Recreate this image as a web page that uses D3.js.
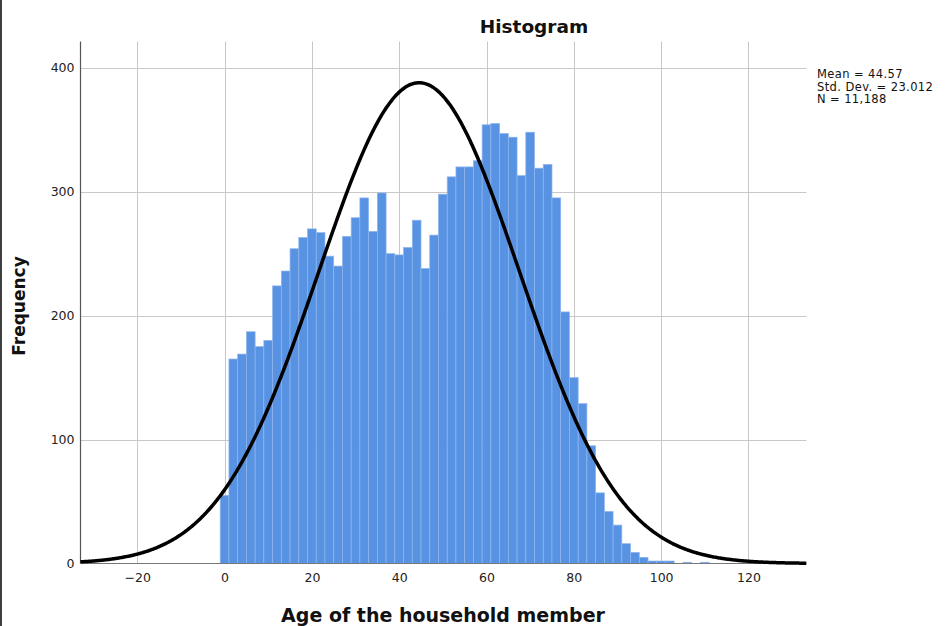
<!DOCTYPE html>
<html>
<head>
<meta charset="utf-8">
<script src="https://cdn.jsdelivr.net/npm/d3@7"></script>
<style>
  html, body { margin: 0; padding: 0; background: #fff; }
  svg { display: block; }
</style>
</head>
<body>
<svg id="chart" width="945" height="626"></svg>
<script>
// ---- Data ----
const binCenters = [0,2,4,6,8,10,12,14,16,18,20,22,24,26,28,30,32,34,36,38,40,42,44,46,48,50,52,54,56,58,60,62,64,66,68,70,72,74,76,78,80,82,84,86,88,90,92,94,96,98,100,102,104,106,108,110];
const frequencies = [55,165,169,187,175,180,224,236,254,263,270,267,248,240,264,279,295,268,299,250,249,255,277,238,265,298,312,320,320,325,354,355,347,344,313,348,319,322,295,203,150,129,95,57,42,31,16,9,5,2,2,2,0,1,0,1];
const binWidth = 2;
const xTicks = [-20,0,20,40,60,80,100,120];
const yTicks = [0,100,200,300,400];
const statMean = 44.57, statSD = 23.012, statN = 11188;
const legendLines = ["Mean = 44.57", "Std. Dev. = 23.012", "N = 11,188"];
const titleText = "Histogram";
const xTitle = "Age of the household member";
const yTitle = "Frequency";

// ---- Layout ----
const svg = d3.select("#chart");
const pLeft = 80.5, pRight = 806.5, pTop = 41.5, pBottom = 563.5;
const x = d3.scaleLinear().domain([-33.0, 133.3]).range([pLeft, pRight]);
const y = d3.scaleLinear().domain([0, 421.2]).range([pBottom, pTop]);
const font = "'DejaVu Sans', sans-serif";

// image left border
svg.append("line").attr("x1",1).attr("x2",1).attr("y1",0).attr("y2",626)
  .attr("stroke","#000").attr("stroke-width",1.5);

// grid
const grid = svg.append("g");
grid.selectAll("line.v").data(xTicks).join("line")
  .attr("x1", d => Math.round(x(d)) + 0.5).attr("x2", d => Math.round(x(d)) + 0.5)
  .attr("y1", pTop).attr("y2", pBottom)
  .attr("stroke", "#c8c8c8").attr("stroke-width", 1);
grid.selectAll("line.h").data(yTicks.filter(d => d > 0)).join("line")
  .attr("x1", pLeft).attr("x2", pRight)
  .attr("y1", d => Math.round(y(d)) + 0.5).attr("y2", d => Math.round(y(d)) + 0.5)
  .attr("stroke", "#c8c8c8").attr("stroke-width", 1);

// bars
svg.append("g").selectAll("rect").data(binCenters.map((c,i) => ({c, v: frequencies[i]})).filter(d => d.v > 0))
  .join("rect")
  .attr("x", d => x(d.c - binWidth/2))
  .attr("width", d => x(d.c + binWidth/2) - x(d.c - binWidth/2))
  .attr("y", d => y(d.v))
  .attr("height", d => y(0) - y(d.v))
  .attr("fill", "#5893e3")
  .attr("stroke", "#8fb6ee")
  .attr("stroke-width", 0.7);

// axes
const xAxis = d3.axisBottom(x).tickValues(xTicks).tickSize(0).tickPadding(10).tickFormat(d => d < 0 ? "\u2212" + Math.abs(d) : d);
const gx = svg.append("g").attr("transform", `translate(0,${pBottom})`).call(xAxis);
gx.select(".domain").remove();
gx.selectAll("text").attr("font-family", font).attr("font-size", 12.5).attr("fill", "#222");

const yAxis = d3.axisLeft(y).tickValues(yTicks).tickSize(0).tickPadding(6);
const gy = svg.append("g").attr("transform", `translate(${pLeft},0)`).call(yAxis);
gy.select(".domain").remove();
gy.selectAll("text").attr("font-family", font).attr("font-size", 12.5).attr("fill", "#222");

// axis lines
svg.append("line").attr("x1", pLeft).attr("x2", pLeft).attr("y1", pTop).attr("y2", pBottom)
  .attr("stroke", "#555").attr("stroke-width", 1.2);
svg.append("line").attr("x1", pLeft).attr("x2", pRight).attr("y1", pBottom).attr("y2", pBottom)
  .attr("stroke", "#777").attr("stroke-width", 1.2);

// normal curve from the stated statistics
const curveXs = d3.range(-33.0, 133.31, 0.25);
const normalY = t => statN * binWidth / (statSD * Math.sqrt(2*Math.PI)) * Math.exp(-0.5 * Math.pow((t - statMean)/statSD, 2));
svg.append("path")
  .datum(curveXs)
  .attr("d", d3.line().x(d => x(d)).y(d => y(normalY(d))).curve(d3.curveBasis))
  .attr("fill", "none").attr("stroke", "#000").attr("stroke-width", 3.5)
  .attr("stroke-linejoin", "round");

// titles
svg.append("text").attr("x", 534).attr("y", 33).attr("text-anchor", "middle")
  .attr("font-family", font).attr("font-weight", "bold").attr("font-size", 18.5)
  .attr("fill", "#111").text(titleText);
svg.append("text").attr("x", 443).attr("y", 622).attr("text-anchor", "middle")
  .attr("font-family", font).attr("font-weight", "bold").attr("font-size", 19)
  .attr("fill", "#111").text(xTitle);
svg.append("text").attr("transform", "translate(25,306) rotate(-90)").attr("text-anchor", "middle")
  .attr("font-family", font).attr("font-weight", "bold").attr("font-size", 17)
  .attr("fill", "#111").text(yTitle);

// legend
svg.append("g").selectAll("text").data(legendLines).join("text")
  .attr("x", 817).attr("y", (d,i) => 78 + i*12.5)
  .attr("font-family", font).attr("font-size", 11.5).attr("letter-spacing", 0.4).attr("fill", "#111")
  .text(d => d);
</script>
</body>
</html>
